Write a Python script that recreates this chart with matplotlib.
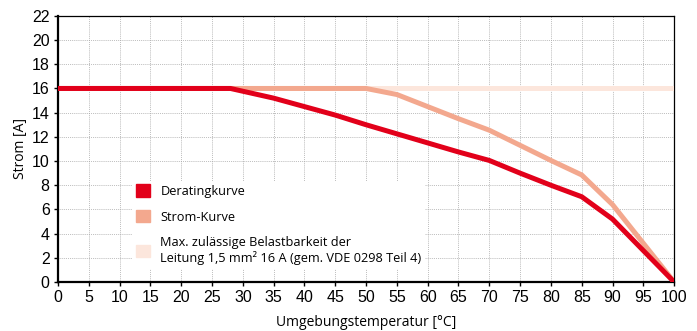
import matplotlib.pyplot as plt
from matplotlib.patches import Patch

# Values
temp_max = [0, 100]
strom_max = [16, 16]

temp_strom = [0, 50, 55, 60, 65, 70, 75, 80, 85, 90, 100]
strom_kurve = [16, 16, 15.5, 14.5, 13.5, 12.55, 11.3, 10.05, 8.85, 6.4, 0]

temp_derating = [0, 28, 35, 40, 45, 50, 55, 60, 65, 70, 75, 80, 85, 90, 100]
derating = [16, 16, 15.2, 14.5, 13.8, 13.0, 12.25, 11.5, 10.75, 10.05, 9.0, 8.0, 7.05, 5.2, 0]

c_red = '#e2001a'
c_strom = '#f3a88e'
c_max = '#fce6dc'

plt.rcParams['font.family'] = ['Liberation Sans', 'DejaVu Sans']

fig = plt.figure(figsize=(6.97, 3.31), dpi=100)
ax = fig.add_axes([0.0832, 0.148, 0.884, 0.804])

ax.plot(temp_max, strom_max, color=c_max, linewidth=3.6, solid_capstyle='butt', zorder=3)
ax.plot(temp_strom, strom_kurve, color=c_strom, linewidth=3.6, solid_capstyle='butt', zorder=4)
ax.plot(temp_derating, derating, color=c_red, linewidth=3.6, solid_capstyle='butt', zorder=5)

ax.set_xlim(0, 100)
ax.set_ylim(0, 22)
ax.set_xticks(range(0, 101, 5))
ax.set_yticks(range(0, 23, 2))
ax.tick_params(labelsize=11.5, length=3, width=1, direction='out', pad=3)

ax.grid(True, color='#a8a8a8', linestyle=(0, (1, 1.3)), linewidth=0.6)
ax.set_axisbelow(True)

for s in ['left', 'bottom']:
    ax.spines[s].set_linewidth(1.6)
for s in ['top', 'right']:
    ax.spines[s].set_linewidth(0.9)

ax.set_xlabel('Umgebungstemperatur [°C]', fontsize=10, family=['Open Sans', 'DejaVu Sans'], labelpad=7)
ax.set_ylabel('Strom [A]', fontsize=10, family=['Open Sans', 'DejaVu Sans'], labelpad=3)

handles = [Patch(color=c_red), Patch(color=c_strom), Patch(color=c_max)]
labels = ['Deratingkurve', 'Strom-Kurve',
          'Max. zulässige Belastbarkeit der\nLeitung 1,5 mm² 16 A (gem. VDE 0298 Teil 4)']
leg = ax.legend(handles, labels, loc='upper left', bbox_to_anchor=(0.11, 0.405),
                handlelength=1.1, handleheight=1.1, handletextpad=0.8,
                labelspacing=0.95, frameon=True, fancybox=False, borderpad=0.3,
                prop={'family': ['Open Sans', 'DejaVu Sans'], 'size': 9.2})
leg.get_frame().set_facecolor('white')
leg.get_frame().set_edgecolor('none')
leg.get_frame().set_alpha(1)
leg.set_zorder(2)

plt.savefig('out.png', dpi=100)
